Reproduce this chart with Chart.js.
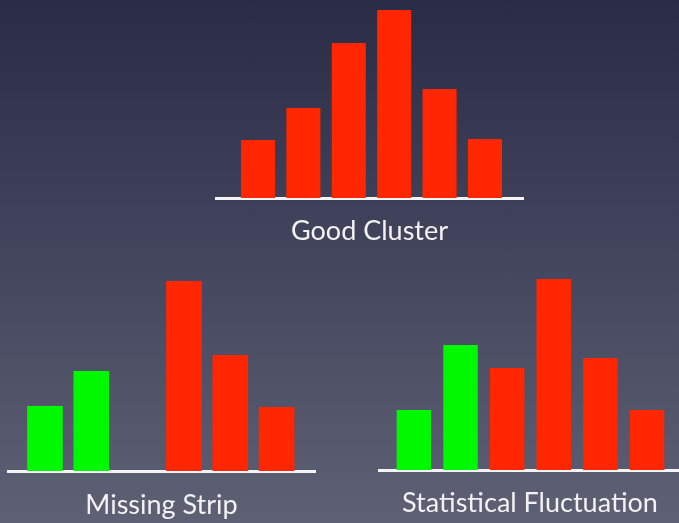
<!DOCTYPE html>
<html>
<head>
<meta charset="utf-8">
<script src="https://cdn.jsdelivr.net/npm/chart.js@4/dist/chart.umd.min.js"></script>
<style>
  html, body {
    margin: 0;
    padding: 0;
  }
  body {
    width: 679px;
    height: 523px;
    overflow: hidden;
    position: relative;
    background: linear-gradient(to bottom, #2a2b45 0%, #44465e 50%, #5e6074 100%);
  }
  canvas {
    position: absolute;
  }
</style>
</head>
<body>
<canvas id="good" width="309" height="247" style="left:215px; top:0px;"></canvas>
<canvas id="missing" width="309" height="248" style="left:7px; top:273px;"></canvas>
<canvas id="fluct" width="304" height="247" style="left:378px; top:272px;"></canvas>
<script>
// strip positions along the baseline
const strips = [0, 1, 2, 3, 4, 5];

// bar heights
const goodValues = [58, 90, 155, 188, 109, 59];
const missingValues = [65, 100, null, 190, 116, 64];
const fluctValues = [60, 125, 102, 191, 112, 60];

const titles = ['Good Cluster', 'Missing Strip', 'Statistical Fluctuation'];
const greenCount = 2; // first strips drawn green in the lower charts

const RED = '#ff2600';
const GREEN = '#00f900';

function createChart(canvas, values, title, greens, xRange, barPct, titlePad) {
  const ctx = canvas.getContext('2d');
  const data = {
    datasets: [
      {
        data: strips.map((x, i) => ({x: x, y: values[i]})),
        backgroundColor: c => c.dataIndex < greens ? GREEN : RED,
        borderWidth: 0,
        barPercentage: barPct,
        categoryPercentage: 1,
      },
    ]
  };

  const config = {
    type: 'bar',
    data: data,
    options: {
      responsive: false,
      animation: false,
      devicePixelRatio: 1,
      layout: {padding: 0},
      scales: {
        x: {
          type: 'linear',
          offset: false,
          min: xRange[0],
          max: xRange[1],
          ticks: {display: false},
          grid: {display: false, drawTicks: false},
          border: {display: true, color: '#f4f4f6', width: 3}
        },
        y: {
          display: false,
          min: 0,
          max: 198
        },
      },
      plugins: {
        legend: {display: false},
        tooltip: {enabled: false},
        title: {
          display: true,
          position: 'bottom',
          text: title,
          color: '#f2f2f4',
          font: {family: 'Lato', size: 27, weight: 'normal', lineHeight: '32px'},
          padding: {top: titlePad, bottom: 0}
        }
      }
    }
  };
  return new Chart(ctx, config);
}

createChart(document.getElementById('good'), goodValues, titles[0], 0, [-0.947, 5.86], 0.75, 17);
createChart(document.getElementById('missing'), missingValues, titles[1], greenCount, [-0.82, 5.85], 0.77, 18);
createChart(document.getElementById('fluct'), fluctValues, titles[2], greenCount, [-0.77, 5.75], 0.74, 17);
</script>
</body>
</html>
